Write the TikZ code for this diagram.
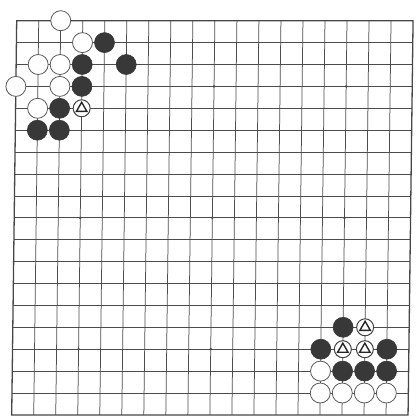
\documentclass[tikz,border=0pt]{standalone}
\usetikzlibrary{shapes.geometric}
\begin{document}
\begin{tikzpicture}[
  gridline/.style={draw=black!70, line width=0.75pt},
  border/.style={draw=black!72, line width=1.3pt},
  bstone/.style={circle, fill=black!78, draw=black!78, line width=0.6pt, minimum size=20pt, inner sep=0pt},
  wstone/.style={circle, fill=white, draw=black!65, line width=0.8pt, minimum size=20pt, inner sep=0pt},
  tstone/.style={circle, fill=white, draw=black!75, line width=1pt, minimum size=17pt, inner sep=0pt},
  tri/.style={regular polygon, regular polygon sides=3, draw=black!85, line width=1.4pt, minimum size=12pt, inner sep=0pt},
  hoshi/.style={circle, fill=black!70, minimum size=3pt, inner sep=0pt}
]
\fill[white] (0,0) rectangle (416pt,-418pt);
\useasboundingbox (0,0) rectangle (416pt,-418pt);
\begin{scope}[x={(22.02pt,0pt)}, y={(-0.278pt,-21.9pt)}, shift={(16.7pt,-20.7pt)}]
  \foreach \i in {1,...,17} {
    \draw[gridline] (\i,0) -- (\i,18);
    \draw[gridline] (0,\i) -- (18,\i);
  }
  \draw[border] (0,0) -- (18,0) -- (18,18) -- (0,18) -- cycle;
  \foreach \c/\r in {9/3,15/3,3/9,9/9,15/9,3/15,9/15} {
    \node[hoshi] (h\c-\r) at (\c,\r) {};
  }
  % top-left group
  \node[wstone] (w1) at (2,0) {};
  \node[wstone] (w2) at (3,1) {};
  \node[bstone] (b1) at (4,1) {};
  \node[wstone] (w3) at (1,2) {};
  \node[wstone] (w4) at (2,2) {};
  \node[bstone] (b2) at (3,2) {};
  \node[bstone] (b3) at (5,2) {};
  \node[wstone] (w5) at (0,3) {};
  \node[wstone] (w6) at (2,3) {};
  \node[bstone] (b4) at (3,3) {};
  \node[wstone] (w7) at (1,4) {};
  \node[bstone] (b5) at (2,4) {};
  \node[tstone] (wt1) at (3,4) {};
  \node[tri] (t1) at (wt1.center) {};
  \node[bstone] (b6) at (1,5) {};
  \node[bstone] (b7) at (2,5) {};
  % bottom-right group
  \node[bstone] (b8) at (15,14) {};
  \node[tstone] (wt2) at (16,14) {};
  \node[tri] (t2) at (wt2.center) {};
  \node[bstone] (b9) at (14,15) {};
  \node[tstone] (wt3) at (15,15) {};
  \node[tri] (t3) at (wt3.center) {};
  \node[tstone] (wt4) at (16,15) {};
  \node[tri] (t4) at (wt4.center) {};
  \node[bstone] (b10) at (17,15) {};
  \node[wstone] (w8) at (14,16) {};
  \node[bstone] (b11) at (15,16) {};
  \node[bstone] (b12) at (16,16) {};
  \node[bstone] (b13) at (17,16) {};
  \node[wstone] (w9) at (14,17) {};
  \node[wstone] (w10) at (15,17) {};
  \node[wstone] (w11) at (16,17) {};
  \node[wstone] (w12) at (17,17) {};
\end{scope}
\end{tikzpicture}
\end{document}
